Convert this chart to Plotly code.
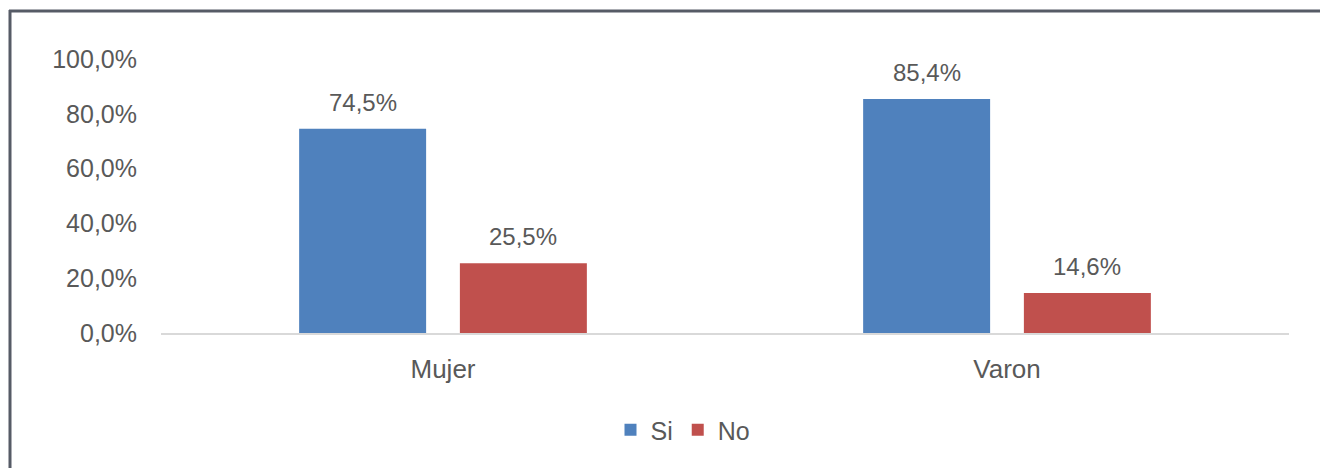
import plotly.graph_objects as go

categories = ["Mujer", "Varon"]
series_names = ["Si", "No"]
si_values = [74.5, 85.4]
no_values = [25.5, 14.6]
y_ticks = [0, 20, 40, 60, 80, 100]
y_tick_labels = [f"{v:.1f}%".replace(".", ",") for v in y_ticks]

colors = {"Si": "#4F81BD", "No": "#C0504D"}
text_color = "#595959"
font_family = "Liberation Sans, Arial, sans-serif"

# page body offset of 8px is compensated in the margins
OFF = 8
W, H = 1320, 460
ml, mr, mt, mb = 161 - OFF, 39, 59 - OFF, 135
bargap = 0.43
bargroupgap = 0.21

fig = go.Figure()
for name, vals in zip(series_names, [si_values, no_values]):
    fig.add_trace(go.Bar(
        name=name, x=categories, y=vals,
        marker=dict(color=colors[name], line=dict(width=0)),
    ))

# data labels above bars
n = len(series_names)
slot = (1 - bargap) / n
for i, vals in enumerate([si_values, no_values]):
    off = -(1 - bargap) / 2 + slot * (i + 0.5)
    for j, v in enumerate(vals):
        fig.add_annotation(
            x=j + off, y=v, xref="x", yref="y",
            text=f"{v:.1f}%".replace(".", ","),
            showarrow=False, yanchor="bottom", yshift=11,
            font=dict(size=24, color=text_color, family=font_family),
        )

pw = W - ml - mr
ph = H - mt - mb
def px2x(p):
    return (p - OFF - ml) / pw
def py2y(p):
    return (H - mb - (p - OFF)) / ph

frame_color = "#565B66"
fig.add_shape(type="line", xref="paper", yref="paper",
              x0=px2x(9), x1=px2x(W + 20), y0=py2y(11), y1=py2y(11),
              line=dict(color=frame_color, width=3))
fig.add_shape(type="line", xref="paper", yref="paper",
              x0=px2x(10), x1=px2x(10), y0=py2y(10), y1=py2y(H + 20),
              line=dict(color=frame_color, width=3))

fig.update_layout(
    width=W, height=H,
    margin=dict(l=ml, r=mr, t=mt, b=mb, pad=0),
    paper_bgcolor="white", plot_bgcolor="white",
    barmode="group", bargap=bargap, bargroupgap=bargroupgap,
    separators=",.",
    font=dict(family=font_family, size=24, color=text_color),
    showlegend=True,
    legend=dict(orientation="h", x=px2x(683), xanchor="center",
                y=py2y(430), yanchor="middle",
                font=dict(size=25, color=text_color, family=font_family),
                itemsizing="constant", itemwidth=30, tracegroupgap=0),
    xaxis=dict(type="category", range=[-0.5, 1.5], showgrid=False,
               showline=True, linecolor="#D9D9D9", linewidth=2,
               ticks="", ticklabelstandoff=12,
               tickfont=dict(size=26, color=text_color), fixedrange=True),
    yaxis=dict(range=[0, 100], tickmode="array", tickvals=y_ticks, ticktext=y_tick_labels,
               showgrid=False, zeroline=False, showline=False, ticks="",
               ticklabelstandoff=23,
               tickfont=dict(size=25, color=text_color), fixedrange=True),
)

fig.write_html("out.html")
